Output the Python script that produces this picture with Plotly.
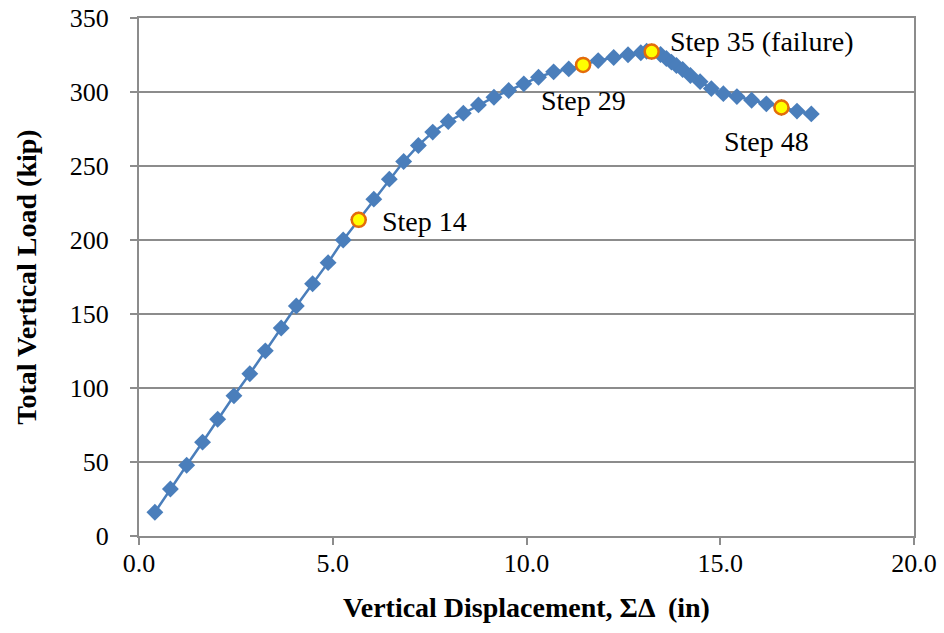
import plotly.graph_objects as go

# step-by-step load vs displacement
displacement = [0.41, 0.81, 1.23, 1.64, 2.03, 2.45, 2.86, 3.26, 3.67, 4.06,
                4.48, 4.88, 5.27, 5.67, 6.06, 6.46, 6.83, 7.21, 7.58, 7.98,
                8.37, 8.76, 9.16, 9.54, 9.93, 10.31, 10.70, 11.09, 11.46, 11.85,
                12.25, 12.62, 12.95, 13.10, 13.23, 13.46, 13.61, 13.74, 13.87, 14.03,
                14.23, 14.48, 14.77, 15.08, 15.43, 15.81, 16.19, 16.58, 16.98, 17.35]
load = [16.0, 31.8, 47.8, 63.4, 78.9, 94.7, 109.6, 125.1, 140.5, 155.4,
        170.4, 184.7, 200.0, 213.6, 227.6, 241.1, 253.0, 263.9, 272.9, 280.1,
        285.7, 291.3, 296.5, 301.0, 305.5, 310.0, 313.6, 315.6, 318.3, 321.2,
        323.3, 325.2, 326.5, 327.5, 327.3, 325.3, 322.6, 320.2, 317.9, 315.2,
        311.1, 307.0, 302.3, 298.9, 296.9, 294.4, 292.0, 289.5, 287.1, 285.2]

key_steps = [14, 29, 35, 48]
key_labels = ["Step 14", "Step 29", "Step 35 (failure)", "Step 48"]

x_ticks = [0, 5, 10, 15, 20]
y_ticks = [0, 50, 100, 150, 200, 250, 300, 350]

FONT = "Liberation Serif, Times New Roman, serif"
GRID = "#8c8c8c"

key_x = [displacement[s - 1] for s in key_steps]
key_y = [load[s - 1] for s in key_steps]

fig = go.Figure()

fig.add_trace(
    go.Scatter(
        x=displacement,
        y=load,
        mode="lines+markers",
        line=dict(color="#4a7ebb", width=2.5),
        marker=dict(symbol="diamond", size=13, color="#4a7ebb"),
        showlegend=False,
    )
)

fig.add_trace(
    go.Scatter(
        x=key_x,
        y=key_y,
        mode="markers",
        marker=dict(symbol="circle", size=14, color="#ffff00",
                    line=dict(color="#e46c0a", width=2.5)),
        showlegend=False,
    )
)

# label offsets (px) relative to each highlighted point
offsets = [
    dict(xanchor="left", xshift=21, yshift=-2),
    dict(xanchor="center", xshift=0, yshift=-36),
    dict(xanchor="left", xshift=16, yshift=10),
    dict(xanchor="center", xshift=-15, yshift=-34),
]
for xv, yv, txt, off in zip(key_x, key_y, key_labels, offsets):
    fig.add_annotation(
        x=xv, y=yv, text=txt, showarrow=False,
        yanchor="middle", font=dict(family=FONT, size=28, color="black"),
        **off,
    )

fig.update_layout(
    width=944,
    height=633,
    margin=dict(l=139, r=30, t=18, b=97),
    plot_bgcolor="white",
    paper_bgcolor="white",
    font=dict(family=FONT, size=26, color="black"),
)

fig.update_xaxes(
    range=[0, 20],
    tickvals=x_ticks,
    ticktext=[f"{v:.1f}" for v in x_ticks],
    showgrid=False,
    showline=True, linecolor=GRID, linewidth=2, mirror=True,
    ticks="outside", ticklen=7, tickcolor=GRID, tickwidth=2,
    ticklabelstandoff=-4, ticklabeloverflow="allow",
    zeroline=False, automargin=False,
    title=dict(text="<b>Vertical Displacement, ΣΔ  (in)</b>",
               font=dict(family=FONT, size=28), standoff=20),
)
fig.update_yaxes(
    range=[0, 350],
    tickvals=y_ticks,
    showgrid=True, gridcolor=GRID, gridwidth=2,
    showline=True, linecolor=GRID, linewidth=2, mirror=True,
    ticks="outside", ticklen=7, tickcolor=GRID, tickwidth=2,
    ticklabelstandoff=16, ticklabeloverflow="allow",
    zeroline=False, automargin=False,
    title=dict(text="<b>Total Vertical Load (kip)</b>",
               font=dict(family=FONT, size=28), standoff=25),
)

# drop the default 8px page margin so the figure fills the window exactly
fig.write_html("out.html", config={"displayModeBar": False},
               post_script="document.body.style.margin = '0';")
